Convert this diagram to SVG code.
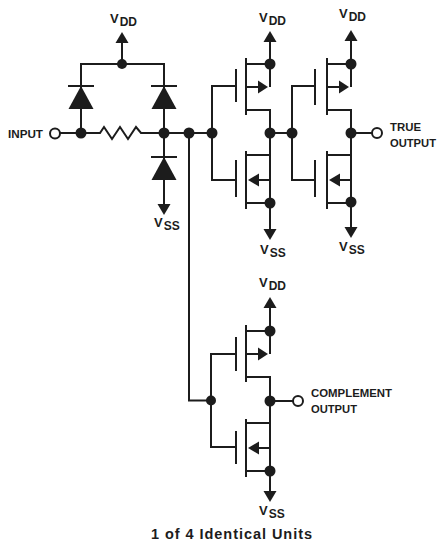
<svg xmlns="http://www.w3.org/2000/svg" width="438" height="542" viewBox="0 0 438 542">
<style>
text{font-family:"Liberation Sans",Arial,sans-serif;font-weight:bold;fill:#1c1c1c}
.l{font-size:11.500px}
.v{font-size:13px}
.s{font-size:12px}
.w{fill:none;stroke:#1c1c1c;stroke-width:2}
.f{fill:#1c1c1c;stroke:none}
.o{fill:#fff;stroke:#1c1c1c;stroke-width:2}
</style>
<defs>
<g id="up"><path class="f" d="M0,-5 L-6.500,6 L6.500,6 Z"/></g>
<g id="dn"><path class="f" d="M0,5 L-6.500,-6 L6.500,-6 Z"/></g>
<g id="diode"><path class="w" d="M-13,0H13"/><path class="f" d="M0,0 L-12.500,23 L12.500,23 Z"/></g>
<g id="pmos-body"><path class="w" d="M10,-29V28M10,-23H34M10,23H34M10,0H24M34,-23V0"/><path class="f" d="M32,0 L22,-6.500 L22,6.500 Z"/></g>
<g id="nmos-body"><path class="w" d="M10,-29V29M10,-25H34M10,23H34M22,0H34M34,0V23"/><path class="f" d="M12,0 L23,-6.500 L23,6.500 Z"/></g>
</defs>
<g id="connectors">
<path class="w" d="M60,133H100L104,127L112,139L120,127L128,139L136,127L141,133H212"/>
<path class="w" d="M122,38V64M81,133V64H164V206M189,133V400.500H211"/>
<path class="w" d="M236,86H212V180H236M270,64V37M270,109V203V233"/>
<path class="w" d="M270,133H292"/>
<path class="w" d="M315,86H292V180H315M351,64V36M351,109V202V232M351,133H372"/>
<path class="w" d="M236,354H211V447H236M270,331V303M270,376V471V496M270,401H293"/>
</g>
<g id="vdd-input"><use href="#up" x="122" y="37"/><text class="v" x="110" y="23">V<tspan class="s" dy="3" dx="1">DD</tspan></text></g>
<g id="vss-input"><use href="#dn" x="164" y="210"/><text class="v" x="154" y="227">V<tspan class="s" dy="3" dx="1">SS</tspan></text></g>
<g id="input"><text class="l" x="8" y="138" textLength="35" lengthAdjust="spacingAndGlyphs">INPUT</text><circle class="o" cx="55" cy="133.500" r="5"/></g>
<g id="diode-1"><use href="#diode" x="81" y="86"/></g>
<g id="diode-2"><use href="#diode" x="164" y="86"/></g>
<g id="diode-3"><use href="#diode" x="164" y="157"/></g>
<g id="junctions-input">
<circle class="f" cx="122" cy="64" r="5"/><circle class="f" cx="81" cy="133" r="5.500"/><circle class="f" cx="164" cy="133" r="5.500"/><circle class="f" cx="189" cy="133" r="5.500"/><circle class="f" cx="212" cy="133" r="5.500"/>
</g>
<g id="p1"><path class="w" d="M236,69V102"/><use href="#pmos-body" x="236" y="87"/></g>
<g id="n1"><path class="w" d="M236,160V197"/><use href="#nmos-body" x="236" y="180"/></g>
<g id="stage1-terminals">
<circle class="f" cx="270" cy="64" r="5.500"/><circle class="f" cx="270" cy="133" r="5.500"/><circle class="f" cx="270" cy="203" r="5.500"/>
<use href="#up" x="270" y="36"/><use href="#dn" x="270" y="235"/>
<text class="v" x="259" y="22">V<tspan class="s" dy="3" dx="1">DD</tspan></text>
<text class="v" x="260" y="254">V<tspan class="s" dy="3" dx="1">SS</tspan></text>
</g>
<g id="p2"><path class="w" d="M315,69V105"/><use href="#pmos-body" x="317" y="87"/></g>
<g id="n2"><path class="w" d="M315,160V197"/><use href="#nmos-body" x="317" y="180"/></g>
<g id="stage2-terminals">
<circle class="f" cx="292" cy="133" r="5.500"/><circle class="f" cx="351" cy="64" r="5.500"/><circle class="f" cx="351" cy="133" r="5.500"/><circle class="f" cx="351" cy="202" r="5.500"/>
<use href="#up" x="351" y="35"/><use href="#dn" x="351" y="233"/>
<text class="v" x="339" y="18">V<tspan class="s" dy="3" dx="1">DD</tspan></text>
<text class="v" x="339" y="251">V<tspan class="s" dy="3" dx="1">SS</tspan></text>
</g>
<g id="true-output"><circle class="o" cx="377" cy="133" r="5"/><text class="l" x="390" y="131" textLength="31" lengthAdjust="spacingAndGlyphs">TRUE</text><text class="l" x="390" y="147" textLength="46" lengthAdjust="spacingAndGlyphs">OUTPUT</text></g>
<g id="p3"><path class="w" d="M236,337V371"/><use href="#pmos-body" x="236" y="354"/></g>
<g id="n3"><path class="w" d="M236,431V464"/><use href="#nmos-body" x="236" y="448"/></g>
<g id="stage3-terminals">
<circle class="f" cx="211" cy="400.500" r="5"/><circle class="f" cx="270" cy="331" r="5.500"/><circle class="f" cx="270" cy="401" r="5.500"/><circle class="f" cx="270" cy="471" r="5.500"/>
<use href="#up" x="270" y="302"/><use href="#dn" x="270" y="497"/>
<text class="v" x="259" y="287">V<tspan class="s" dy="3" dx="1">DD</tspan></text>
<text class="v" x="259" y="515">V<tspan class="s" dy="3" dx="1">SS</tspan></text>
</g>
<g id="complement-output"><circle class="o" cx="298" cy="401" r="5"/><text class="l" x="311" y="397" textLength="81" lengthAdjust="spacingAndGlyphs">COMPLEMENT</text><text class="l" x="311" y="413" textLength="46" lengthAdjust="spacingAndGlyphs">OUTPUT</text></g>
<text id="caption" x="151" y="539" style="font-size:14.500px" textLength="161">1 of 4 Identical Units</text>
</svg>
